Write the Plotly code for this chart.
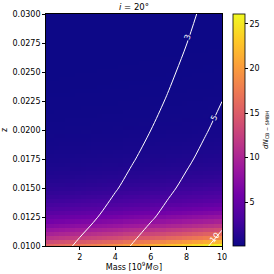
import plotly.graph_objects as go

# ---- heatmap data ----
# redshift rows
z_step = 0.02 / 57
z_rows = [round(0.01 + i * z_step, 6) for i in range(58)]
# dN value at M = 10 for each z row
dn_at_m10 = [26.0, 22.0, 18.5, 16.0, 13.8, 11.6, 9.8, 8.3, 7.0, 5.9,
             5.0, 4.3, 3.7, 3.2, 2.8, 2.45, 2.15, 1.9, 1.68, 1.49,
             1.32, 1.18, 1.05, 0.94, 0.85, 0.77, 0.70, 0.63, 0.57, 0.52,
             0.48, 0.44, 0.40, 0.37, 0.34, 0.31, 0.29, 0.27, 0.25, 0.23,
             0.22, 0.20, 0.19, 0.18, 0.17, 0.16, 0.15, 0.14, 0.13, 0.125,
             0.12, 0.11, 0.105, 0.10, 0.095, 0.09, 0.085, 0.08]
# mass columns and relative weight (fraction of value at M = 10)
mass_cols = [0.1, 0.4, 0.7, 1.0, 1.3, 1.6, 1.9, 2.2, 2.5, 2.8, 3.1, 3.4,
             3.7, 4.0, 4.3, 4.6, 4.9, 5.2, 5.5, 5.8, 6.1, 6.4, 6.7, 7.0,
             7.3, 7.6, 7.9, 8.2, 8.5, 8.8, 9.1, 9.4, 9.7, 10.0]
mass_weight = [0.60, 0.61, 0.62, 0.63, 0.64, 0.65, 0.66, 0.67, 0.68, 0.69,
               0.70, 0.71, 0.72, 0.73, 0.74, 0.76, 0.77, 0.78, 0.79, 0.80,
               0.82, 0.83, 0.84, 0.86, 0.87, 0.88, 0.90, 0.91, 0.93, 0.94,
               0.96, 0.97, 0.99, 1.00]
heat = [[v * w for w in mass_weight] for v in dn_at_m10]

# ---- contour field ----
cont_mass = [0, 1, 2, 3, 4, 5, 6, 7, 8, 9, 10]
cont_z = [0.0100, 0.0125, 0.0150, 0.0175, 0.0200, 0.0225, 0.0250, 0.0275, 0.0300]
cont_vals = [
    [2.33, 2.73, 3.19, 3.74, 4.37, 5.12, 5.99, 7.00, 8.19, 9.59, 11.22],
    [1.86, 2.18, 2.55, 2.99, 3.50, 4.10, 4.79, 5.60, 6.55, 7.67, 8.98],
    [1.55, 1.82, 2.13, 2.49, 2.91, 3.41, 3.99, 4.67, 5.46, 6.39, 7.48],
    [1.33, 1.56, 1.82, 2.14, 2.50, 2.93, 3.42, 4.00, 4.68, 5.48, 6.41],
    [1.17, 1.37, 1.60, 1.87, 2.19, 2.56, 3.00, 3.50, 4.10, 4.80, 5.61],
    [1.04, 1.21, 1.42, 1.66, 1.94, 2.28, 2.66, 3.11, 3.64, 4.26, 4.99],
    [0.93, 1.09, 1.28, 1.50, 1.75, 2.05, 2.40, 2.80, 3.28, 3.84, 4.49],
    [0.85, 0.99, 1.16, 1.36, 1.59, 1.86, 2.18, 2.55, 2.98, 3.49, 4.08],
    [0.78, 0.91, 1.06, 1.25, 1.46, 1.71, 2.00, 2.33, 2.73, 3.20, 3.74],
]
cont_levels = [3, 5, 10]
# inline contour labels as drawn in the reference: (text, mass, z, angle, background)
cont_labels = [
    ("3", 8.05, 0.0280, -72, "#0d0887"),
    ("5", 9.55, 0.0210, -65, "#0d0887"),
    ("10", 9.62, 0.0107, -50, None),
]

x_ticks = [2, 4, 6, 8, 10]
y_ticks = [0.0100, 0.0125, 0.0150, 0.0175, 0.0200, 0.0225, 0.0250, 0.0275, 0.0300]
cb_ticks = [5, 10, 15, 20, 25]
cb_ticktext = ["5", "10", "15", "20", "25"]

FONT = "DejaVu Sans"

fig = go.Figure()
fig.add_trace(go.Heatmap(
    x=mass_cols, y=z_rows, z=heat,
    colorscale="Plasma", zmin=0.1, zmax=26.1, zauto=False,
    colorbar=dict(
        x=1.0625, xanchor="left", xpad=0, ypad=0,
        y=0.5, yanchor="middle", len=1, lenmode="fraction",
        thickness=12, outlinewidth=0.8, outlinecolor="black",
        tickmode="array", tickvals=cb_ticks, ticktext=cb_ticktext,
        ticks="outside", ticklen=3, tickwidth=0.8,
        ticklabeloverflow="allow",
        tickcolor="black", tickfont=dict(size=8, family=FONT, color="black"),
        title=dict(text="<i>dN</i><sub>CB − SMBH</sub>", side="right",
                   font=dict(size=7, family=FONT, color="black")),
    ),
    showscale=True,
))

for lev in cont_levels:
    fig.add_trace(go.Contour(
        x=cont_mass, y=cont_z, z=cont_vals,
        contours=dict(start=lev, end=lev, size=1, coloring="none",
                      showlabels=False),
        line=dict(color="white", width=1),
        showscale=False, hoverinfo="skip",
    ))

for txt, mx, mz, ang, bg in cont_labels:
    fig.add_annotation(
        x=mx, y=mz, xref="x", yref="y", text=txt, showarrow=False,
        textangle=ang, bgcolor=bg, borderpad=0,
        font=dict(size=8, family=FONT, color="white"),
    )

fig.update_layout(
    width=274, height=274,
    margin=dict(l=46, r=52, t=14, b=28, autoexpand=False),
    paper_bgcolor="white", plot_bgcolor="white",
    showlegend=False,
    title=dict(text="<i>i</i> = 20°", x=0.5, xref="paper", xanchor="center",
               y=1 - 7 / 274, yref="container", yanchor="middle",
               font=dict(size=8.5, family=FONT, color="black")),
    font=dict(family=FONT, size=8, color="black"),
)
fig.update_xaxes(
    range=[0.1, 10], tickvals=x_ticks, ticks="outside", ticklen=3,
    tickwidth=0.8, tickcolor="black", showline=True, linecolor="black",
    linewidth=0.8, mirror=True, showgrid=False, zeroline=False,
    automargin=False,
    tickfont=dict(size=8, family=FONT),
    title=dict(text="Mass [10<sup>9</sup><i>M</i>⊙]", standoff=2,
               font=dict(size=8, family=FONT)),
)
fig.update_yaxes(
    range=[0.01, 0.03], tickvals=y_ticks, tickformat=".4f", ticks="outside",
    ticklen=3, tickwidth=0.8, tickcolor="black", showline=True,
    linecolor="black", linewidth=0.8, mirror=True, showgrid=False,
    zeroline=False, automargin=False, tickfont=dict(size=8, family=FONT),
    title=dict(text="z", standoff=4, font=dict(size=8, family=FONT)),
)

fig.write_html("out.html",
               config={"displayModeBar": False},
               post_script="document.body.style.margin='0';")
